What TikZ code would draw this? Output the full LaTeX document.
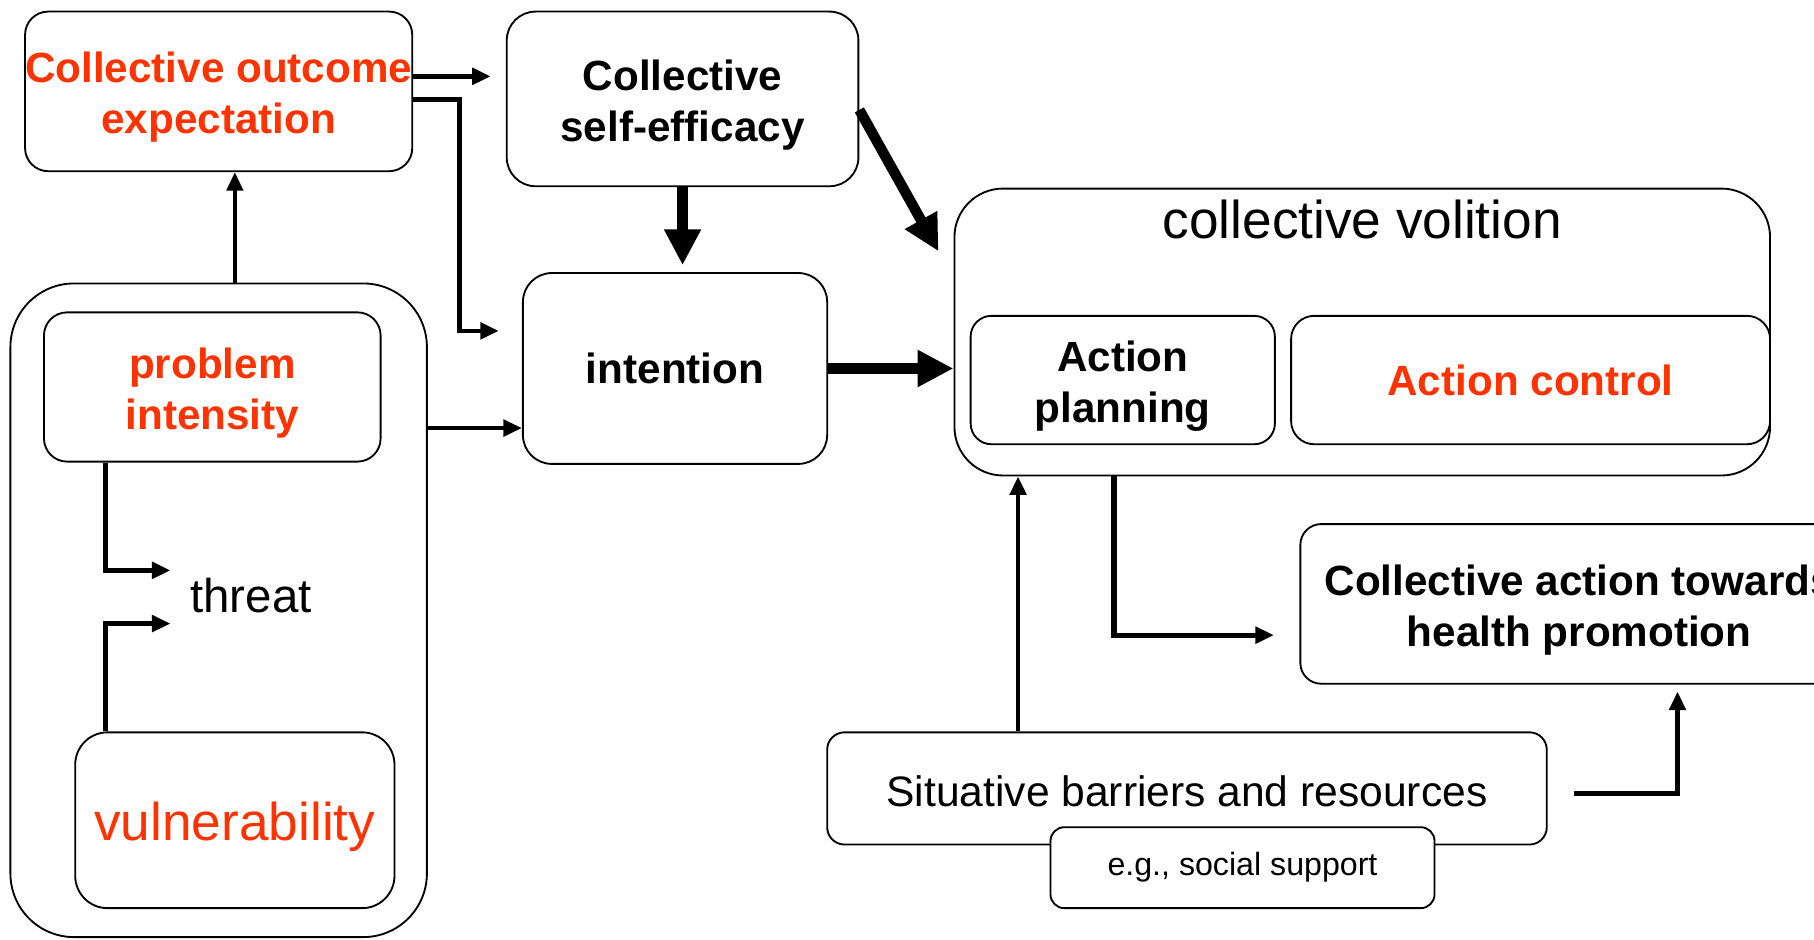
\documentclass[tikz,border=0pt]{standalone}
\usepackage{fontspec}
\setmainfont{Liberation Sans}
\usetikzlibrary{arrows.meta}
\definecolor{hotred}{HTML}{FF3300}
% taller first line, pushes two-line labels a bit lower in their boxes
\newcommand\tallstrut[1][37pt]{\rule{0pt}{#1}}

\begin{document}
\begin{tikzpicture}[x=1pt, y=-1pt,
    box/.style={draw, line width=1.6pt, rounded corners=#1, inner sep=0pt, align=center},
    box/.default=20pt,
    bold/.style={font=\bfseries\fontsize{36.5}{44}\selectfont},
    hot/.style={text=hotred},
    link/.style={line width=4pt, -{Triangle[length=16pt,width=14pt]}},
    heavy/.style={line width=10pt, -{Triangle[length=31pt,width=30pt]}}]
    \useasboundingbox (0,0) rectangle (1568,812);
    \clip (0,0) rectangle (1568,812);

    % upper row
    \node [box, bold, hot, minimum width=332pt, minimum height=138pt] (coe) at (189,79) {\tallstrut Collective outcome\\expectation};
    \node [box=25pt, bold, minimum width=304pt, minimum height=151pt] (cse) at (590,85.5) {\tallstrut Collective\\self-efficacy};
    \node [box=25pt, bold, minimum width=263pt, minimum height=165pt] (int) at (583.5,318.5) {intention};

    % threat group
    \node [box=55pt, minimum width=360pt, minimum height=565pt] (cont) at (189,527.5) {};
    \node [box, bold, hot, minimum width=291pt, minimum height=129pt] (prob) at (183.5,334.5) {\tallstrut problem\\intensity};
    \node [inner sep=0pt, font=\fontsize{41}{48}\selectfont] (thr) at (217,515) {threat};
    \node [box=28pt, hot, minimum width=276pt, minimum height=152pt, font=\fontsize{46}{54}\selectfont] (vul) at (203,709) {\tallstrut[45pt]vulnerability};

    % volition
    \node [box=42pt, minimum width=705pt, minimum height=248pt] (vol) at (1177.5,287) {};
    \node [inner sep=0pt, font=\fontsize{46}{54}\selectfont] (voltitle) at (1177.5,190) {collective volition};
    \node [box=18pt, bold, minimum width=263pt, minimum height=111pt] (plan) at (970.5,328.5) {\tallstrut Action\\planning};
    \node [box, bold, hot, minimum width=414pt, minimum height=111pt] (ctrl) at (1323,328.5) {Action control};

    % outcome and barriers
    \node [box=18pt, bold, minimum width=482pt, minimum height=138pt] (cat) at (1365,522) {\tallstrut Collective action towards\\health promotion};
    \node [box=15pt, minimum width=622pt, minimum height=97pt, font=\fontsize{36.8}{44}\selectfont] (sit) at (1026,681.5) {\tallstrut[32pt]Situative barriers and resources};
    \node [box=12pt, fill=white, minimum width=332pt, minimum height=70pt, font=\fontsize{27.8}{33}\selectfont] (eg) at (1074,750) {e.g., social support};

    % connectors
    \draw [link, shorten >=13pt] ([yshift=13pt]coe.east) coordinate (o1) -- (o1 -| cse.west);
    \draw [link, shorten >=20pt] ([yshift=-7pt]coe.east) -- ++(40,0) |- ([yshift=32.5pt]int.west);
    \draw [link, line width=3.5pt] ([xshift=14pt]cont.north) coordinate (c1) -- (c1 |- coe.south);
    \coordinate (i1) at ([yshift=-51.5pt]int.west);
    \draw [link] (i1 -| cont.east) -- (i1);
    \draw [link, shorten >=17pt] ([xshift=-92.5pt]prob.south) |- ([yshift=22pt]thr.west);
    \draw [link, shorten >=17pt] ([xshift=-112pt]vul.north) |- ([yshift=-24pt]thr.west);
    \draw [link] ([xshift=-146pt]sit.north) coordinate (s1) -- (s1 |- vol.south);
    \draw [link, line width=4.5pt, shorten >=22pt] ([xshift=-214.5pt]vol.south) |- ([yshift=-27pt]cat.west);
    \draw [link, line width=4.5pt, shorten >=6pt] ([xshift=23pt,yshift=-4.5pt]sit.east) -| ([xshift=85pt]cat.south);
    \draw [heavy, shorten >=6pt] (cse.south) -- (cse.south |- int.north);
    \draw [heavy] (int.east) -- (int.east -| vol.west);
    \draw [heavy, line width=9pt] ([yshift=-9.5pt]cse.east) -- ([xshift=-13pt,yshift=-55pt]vol.north west);
\end{tikzpicture}
\end{document}
